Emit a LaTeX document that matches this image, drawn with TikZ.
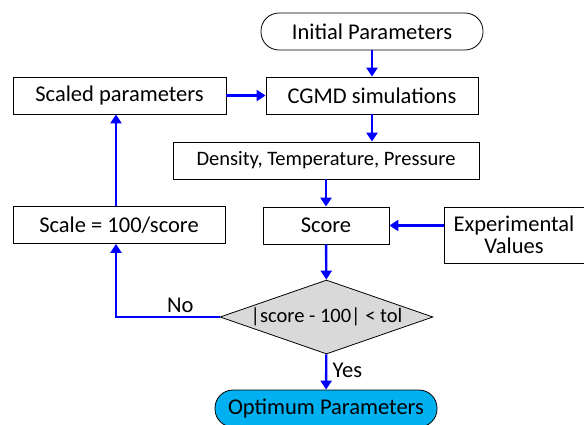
\documentclass[tikz,border=0pt]{standalone}
\usepackage{fontspec}
\setmainfont{Carlito}
\usetikzlibrary{shapes.geometric,arrows.meta}
\begin{document}
\begin{tikzpicture}[x=1pt,y=-1pt,
  box/.style={draw,line width=0.8pt,minimum height=37pt,inner sep=0pt,font=\fontsize{22.5}{24}\selectfont},
  term/.style={box,rounded corners=18pt},
  arr/.style={draw=blue,line width=2.4pt,-{Triangle[length=9pt,width=11pt]}},
  lbl/.style={font=\fontsize{22.5}{24}\selectfont}]
\useasboundingbox (0,0) rectangle (584,424);
\node[term,minimum width=222pt] (init) at (372,31.5) {Initial Parameters};
\node[box,minimum width=212pt] (cgmd) at (372,95.5) {CGMD simulations};
\node[box,minimum width=306pt,font=\fontsize{20.5}{22}\selectfont] (dtp) at (326,160.5) {Density, Temperature, Pressure};
\node[box,minimum width=213pt] (scaled) at (119.5,95.5) {Scaled parameters};
\node[box,minimum width=212pt] (scale) at (119,225) {Scale = 100/score};
\node[box,minimum width=126pt] (score) at (326,225.5) {Score};
\node[box,minimum width=140pt,minimum height=56pt,align=center,font=\fontsize{22.5}{22}\selectfont] (exp) at (514,235) {Experimental\\Values};
\node[diamond,draw,line width=0.8pt,fill=black!15,aspect=2.88,minimum width=213pt,minimum height=74pt,inner sep=0pt,font=\fontsize{20.5}{22}\selectfont] (dec) at (326.5,317) {|score - 100| < tol};
\node[term,fill={rgb,255:red,0;green,176;blue,240},minimum width=222pt] (opt) at (326,408.5) {Optimum Parameters};
\coordinate (corner) at (116,317);
\path[arr] (init) -- (cgmd);
\path[arr] (scaled) -- (cgmd);
\path[arr] (cgmd) -- (cgmd|-dtp.north);
\path[arr] (dtp) -- (score);
\path[arr] (exp.west|-score) -- (score);
\path[arr] (score) -- (dec);
\path[arr] (dec) -- node[lbl,right,pos=0.45,xshift=2pt]{Yes} (opt);
\path[arr] (dec.west) -- node[lbl,above,pos=0.38]{No} (corner) -- (corner|-scale.south);
\path[arr] (corner|-scale.north) -- (corner|-scaled.south);
\end{tikzpicture}
\end{document}
